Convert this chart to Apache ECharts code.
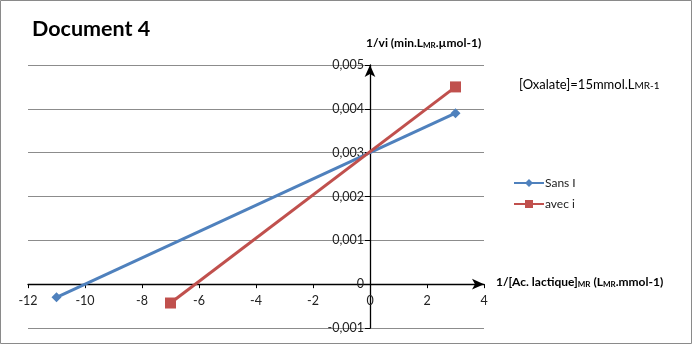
<!DOCTYPE html>
<html><head><meta charset="utf-8">
<script src="https://cdn.jsdelivr.net/npm/echarts@6/dist/echarts.min.js"></script>
<style>html,body{margin:0;padding:0;background:#fff}#c{width:692px;height:344px}</style>
</head><body><div id="c"></div>
<script>
const sansX = [-11, 3];
const sansY = [-0.0003, 0.0039];
const avecX = [-7, 3];
const avecY = [-0.00043, 0.0045];
const seriesNames = ['Sans I', 'avec i'];
const xTicks = [-12, -10, -8, -6, -4, -2, 0, 2, 4];
const yTicks = [-0.001, 0, 0.001, 0.002, 0.003, 0.004, 0.005];

const GL = 28, GR = 208, GT = 65, GB = 16, W = 692, H = 344;
const chart = echarts.init(document.getElementById('c'), null, {renderer: 'canvas'});
const F = 'Lato, "Open Sans", sans-serif';
const fmtY = v => { const r = Math.round(v * 1000) / 1000; return r === 0 ? '0' : r.toFixed(3).replace('.', ','); };
const xMin = xTicks[0], xMax = xTicks[xTicks.length - 1];
const yMin = yTicks[0], yMax = yTicks[yTicks.length - 1];
// move axes to cross at zero (layout only)
const plotW = W - GL - GR, plotH = H - GT - GB;
const yAxisOffset = -plotW * (0 - xMin) / (xMax - xMin);
const xAxisOffset = -plotH * (0 - yMin) / (yMax - yMin);
chart.setOption({
  animation: false,
  backgroundColor: '#fff',
  grid: {left: GL, right: GR, top: GT, bottom: GB, containLabel: false, outerBoundsMode: 'none'},
  xAxis: {
    type: 'value', min: xMin, max: xMax, interval: 2, position: 'bottom', offset: xAxisOffset,
    axisLine: {onZero: false, lineStyle: {color: '#000', width: 1.3}, symbol: ['none', 'arrow'], symbolSize: [8, 12]},
    axisTick: {show: true, inside: false, length: 4, lineStyle: {color: '#000'}},
    axisLabel: {color: '#222', fontFamily: F, fontSize: 12.5, margin: 10},
    splitLine: {show: false}
  },
  yAxis: {
    type: 'value', min: yMin, max: yMax, interval: 0.001, position: 'left', offset: yAxisOffset,
    axisLine: {onZero: false, lineStyle: {color: '#000', width: 1.3}, symbol: ['none', 'arrow'], symbolSize: [8, 12]},
    axisTick: {show: true, length: 5, lineStyle: {color: '#000'}},
    axisLabel: {color: '#222', fontFamily: F, fontSize: 12.5, margin: 6, formatter: fmtY},
    splitLine: {show: true, lineStyle: {color: '#8c8c8c', width: 1}}
  },
  legend: {
    orient: 'vertical', left: 508, top: 172, itemGap: 9, itemWidth: 30, itemHeight: 10,
    textStyle: {fontFamily: F, fontSize: 12, color: '#222', padding: [0, 0, 0, -4]},
    data: seriesNames
  },
  series: [
    {name: seriesNames[0], type: 'line', data: sansX.map((x, i) => [x, sansY[i]]),
     symbol: 'diamond', symbolSize: 10, lineStyle: {color: '#4F81BD', width: 3},
     itemStyle: {color: '#4F81BD'}},
    {name: seriesNames[1], type: 'line', data: avecX.map((x, i) => [x, avecY[i]]),
     symbol: 'rect', symbolSize: 11, lineStyle: {color: '#C0504D', width: 3},
     itemStyle: {color: '#C0504D'}}
  ],
  graphic: [
    {type: 'rect', shape: {x: 0.5, y: 0.5, width: 691, height: 343}, style: {fill: 'none', stroke: '#8a8a8a', lineWidth: 1}, silent: true},
    {type: 'text', left: 32, top: 18, style: {text: 'Document 4', font: 'bold 21.5px ' + F, fill: '#000'}},
    {type: 'text', left: 366, top: 37, style: {
      text: '1/vi (min.L{s|MR}.µmol-1)', font: 'bold 12px ' + F, fill: '#000',
      rich: {s: {font: 'bold 8px ' + F, fill: '#000', verticalAlign: 'bottom'}}}},
    {type: 'text', left: 496, top: 276, style: {
      text: '1/[Ac. lactique]{s|MR} (L{s|MR}.mmol-1)', font: 'bold 12px ' + F, fill: '#000',
      rich: {s: {font: 'bold 8px ' + F, fill: '#000', verticalAlign: 'bottom'}}}},
    {type: 'text', left: 519, top: 78, style: {
      text: '[Oxalate]=15mmol.L{s|MR-1}', font: '13px ' + F, fill: '#000',
      rich: {s: {font: '10px ' + F, fill: '#000', verticalAlign: 'bottom'}}}}
  ]
});
</script></body></html>
